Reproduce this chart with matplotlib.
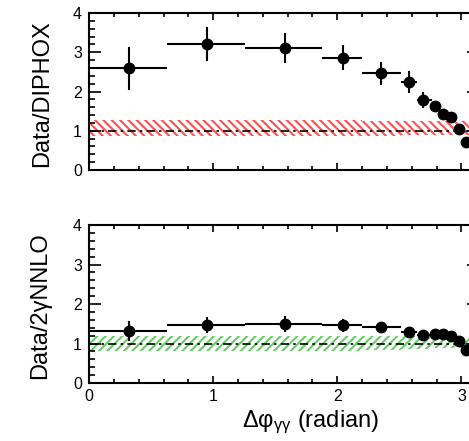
import numpy as np
import matplotlib
matplotlib.use("Agg")
import matplotlib.pyplot as plt
from matplotlib.ticker import MultipleLocator

plt.rcParams["font.family"] = ["Liberation Sans", "DejaVu Sans"]
plt.rcParams["mathtext.fontset"] = "custom"
plt.rcParams["mathtext.rm"] = "Liberation Sans"
plt.rcParams["mathtext.it"] = "Liberation Sans"
plt.rcParams["hatch.linewidth"] = 1.5

# delta-phi bins (radian)
bin_edges = [0.0, 0.63, 1.26, 1.88, 2.20, 2.51, 2.64, 2.76, 2.83, 2.89, 2.95, 3.01, 3.07]
dphi = [0.325, 0.949, 1.575, 2.046, 2.355, 2.575, 2.69, 2.79, 2.855, 2.915, 2.98, 3.04]

# Data / DIPHOX ratio
ratio_diphox = [2.59, 3.22, 3.10, 2.86, 2.46, 2.23, 1.79, 1.62, 1.43, 1.35, 1.04, 0.71]
err_diphox = [0.54, 0.43, 0.38, 0.32, 0.29, 0.28, 0.21, 0.14, 0.10, 0.08, 0.06, 0.05]
diphox_lo = [0.86, 0.86, 0.86, 0.87, 0.87, 0.88, 0.88, 0.88, 0.89, 0.89, 0.89, 0.89]
diphox_hi = [1.28, 1.28, 1.27, 1.27, 1.26, 1.26, 1.25, 1.25, 1.24, 1.24, 1.24, 1.24]

# Data / 2gammaNNLO ratio
ratio_nnlo = [1.32, 1.47, 1.49, 1.46, 1.42, 1.30, 1.21, 1.24, 1.24, 1.18, 1.07, 0.84]
err_nnlo = [0.25, 0.20, 0.21, 0.17, 0.13, 0.11, 0.07, 0.06, 0.05, 0.05, 0.05, 0.05]
nnlo_lo = [0.80, 0.80, 0.81, 0.82, 0.83, 0.85, 0.87, 0.88, 0.88, 0.88, 0.88, 0.88]
nnlo_hi = [1.18, 1.18, 1.18, 1.18, 1.18, 1.18, 1.19, 1.19, 1.19, 1.18, 1.17, 1.17]

x_max = np.pi

fig = plt.figure(figsize=(4.69, 4.41), dpi=100)
ax_top = fig.add_axes([0.1898, 0.6145, 0.8316, 0.3560])
ax_bot = fig.add_axes([0.1898, 0.1315, 0.8316, 0.3583])


def draw_panel(ax, ratio, err, lo, hi, hatch_color, hatch):
    edges = np.array(bin_edges)
    centers = np.array(dphi)
    # theory uncertainty band, one step per bin, extended to pi
    xs = np.append(edges[:-1], x_max)
    ax.fill_between(xs, lo + [lo[-1]], hi + [hi[-1]], step="post",
                    facecolor="none", edgecolor=hatch_color, hatch=hatch,
                    linewidth=0, zorder=1)
    ax.axhline(1.0, color="black", lw=1.2,
               linestyle=(0, (5, 2.5, 1.5, 2.5)), zorder=2)
    xerr = [centers - edges[:-1], edges[1:] - centers]
    ax.errorbar(centers, ratio, yerr=err, xerr=xerr, fmt="o", color="black",
                ms=7.5, elinewidth=1.5, capsize=0, zorder=3)
    ax.set_xlim(0, x_max)
    ax.set_ylim(0, 4)
    ax.xaxis.set_major_locator(MultipleLocator(1))
    ax.xaxis.set_minor_locator(MultipleLocator(0.2))
    ax.yaxis.set_major_locator(MultipleLocator(1))
    ax.yaxis.set_minor_locator(MultipleLocator(0.2))
    ax.tick_params(which="both", direction="in", top=True, right=True,
                   width=1.2, labelsize=11.5)
    ax.tick_params(axis="x", which="major", length=5, pad=4)
    ax.tick_params(axis="x", which="minor", length=2.8)
    ax.tick_params(axis="y", which="major", length=8.5, pad=5)
    ax.tick_params(axis="y", which="minor", length=4.5)
    for s in ax.spines.values():
        s.set_linewidth(1.5)


draw_panel(ax_top, ratio_diphox, err_diphox, diphox_lo, diphox_hi, "#ff5050", "\\" * 4)
draw_panel(ax_bot, ratio_nnlo, err_nnlo, nnlo_lo, nnlo_hi, "#66cc66", "/" * 4)

ax_top.tick_params(axis="x", labelbottom=False)

fig.text(0.090, 0.788, "Data/DIPHOX", rotation=90, fontsize=17,
         ha="center", va="center")
fig.text(0.086, 0.308, "Data/2γNNLO", rotation=90, fontsize=17,
         ha="center", va="center")
fig.text(0.516, 0.043, r"$\mathrm{Δφ_{γγ}}$ (radian)", fontsize=17,
         ha="left", va="center")

fig.savefig("out.png", dpi=100)
